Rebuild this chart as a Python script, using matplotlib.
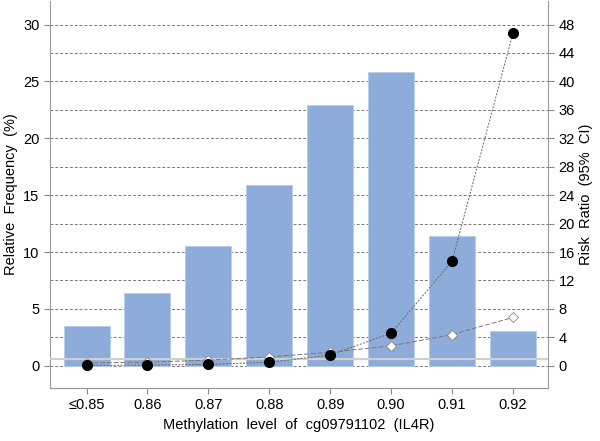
import numpy as np
import matplotlib
matplotlib.use("Agg")
import matplotlib.pyplot as plt

plt.rcParams['font.family'] = ['Liberation Sans', 'DejaVu Sans']

# data
categories = ["\u22640.85", "0.86", "0.87", "0.88", "0.89", "0.90", "0.91", "0.92"]
freq = [3.5, 6.4, 10.5, 15.9, 22.9, 25.8, 11.4, 3.1]
rr = [0.05, 0.1, 0.2, 0.5, 1.5, 4.6, 14.7, 46.8]
rr_upper = [0.4, 0.5, 0.8, 1.25, 1.9, 2.8, 4.4, 6.8]

bar_color = "#8eacda"
grid_color = "#7a7a7a"
spine_color = "#9a9a9a"

fig = plt.figure(figsize=(6, 4.41), dpi=100)
ax = fig.add_axes([0.0833, 0.12, 0.83, 0.878])
ax2 = ax.twinx()

x = np.arange(len(categories))
ylo, yhi = -1.96, 32.08
scale = 1.6

ax.set_ylim(ylo, yhi)
ax2.set_ylim(ylo * scale, yhi * scale)
ax.set_xlim(-0.6, 7.575)

# gridlines at every right-axis tick (every 2.5 on the left)
for g in np.arange(0, 30.1, 2.5):
    ax.axhline(g, color=grid_color, lw=0.7, ls=(0, (3, 2)), zorder=1)

ax.bar(x, freq, width=0.755, color=bar_color, edgecolor="#b8cbe8",
       linewidth=0.6, zorder=2)

# RR = 1 reference
ax2.axhline(1, color="#cfcfcf", lw=1.5, zorder=3)
ax2.plot(x, rr_upper, color="#777777", lw=0.7, ls=(0, (5, 2)),
         marker="D", markersize=5, markerfacecolor="white",
         markeredgecolor="#888888", markeredgewidth=0.6, zorder=4)
ax2.plot(x, rr, color="#666666", lw=0.7, ls=(0, (2, 1.5)),
         marker="o", markersize=7, markerfacecolor="black",
         markeredgecolor="black", zorder=5)

ax.set_xticks(x)
ax.set_xticklabels(categories)
ax.set_yticks(np.arange(0, 31, 5))
ax2.set_yticks(np.arange(0, 49, 4))

for a in (ax, ax2):
    a.spines["top"].set_visible(False)
    for s in ("left", "right", "bottom"):
        a.spines[s].set_color(spine_color)
    a.tick_params(colors="#888888", labelcolor="black", labelsize=10.5,
                  length=4)
ax.spines["right"].set_visible(False)
ax2.spines["left"].set_visible(False)

ax.set_ylabel("Relative  Frequency  (%)", fontsize=10.5)
ax2.set_ylabel("Risk  Ratio  (95%  CI)", fontsize=10.5, labelpad=3)
ax.set_xlabel("Methylation  level  of  cg09791102  (IL4R)", fontsize=10.5)

fig.savefig("out.png", dpi=100)
